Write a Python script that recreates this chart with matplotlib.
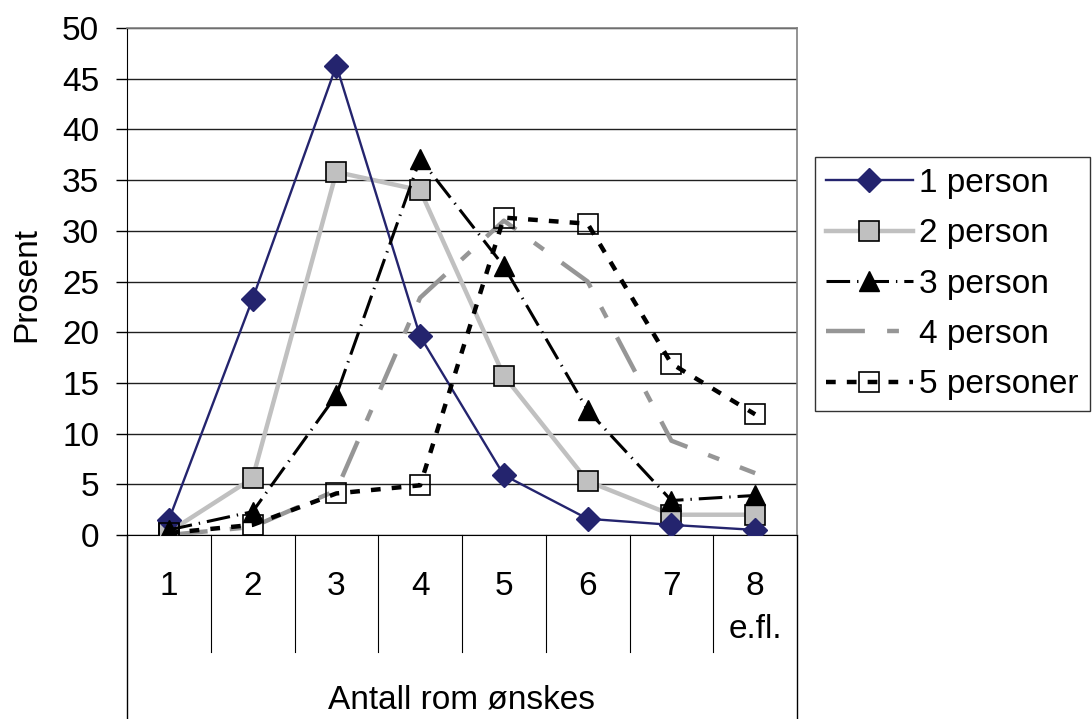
import matplotlib
matplotlib.use("Agg")
import matplotlib.pyplot as plt
import matplotlib.transforms as mtransforms

plt.rcParams['font.family'] = ['Liberation Sans', 'DejaVu Sans']
plt.rcParams['lines.scale_dashes'] = False

categories = ["1", "2", "3", "4", "5", "6", "7", "8\ne.fl."]
series_names = ["1 person", "2 person", "3 person", "4 person", "5 personer"]
p1 = [1.5, 23.3, 46.3, 19.6, 5.9, 1.6, 1.0, 0.5]
p2 = [0.3, 5.6, 35.8, 34.0, 15.7, 5.3, 2.0, 2.0]
p3 = [0.5, 2.3, 13.8, 37.1, 26.5, 12.3, 3.4, 3.9]
p4 = [0.0, 0.8, 4.4, 23.4, 31.0, 25.0, 9.3, 6.1]
p5 = [0.2, 1.0, 4.1, 4.9, 31.3, 30.7, 16.9, 11.9]
yticks = [0, 5, 10, 15, 20, 25, 30, 35, 40, 45, 50]

FS = 24
W, H = 1092, 719
fig = plt.figure(figsize=(W / 100, H / 100), dpi=100)
L, R, T, B = 127, 797, 28, 535
ax = fig.add_axes([L / W, (H - B) / H, (R - L) / W, (B - T) / H])

x = list(range(1, len(categories) + 1))

ax.plot(x, p1, color='#24246E', lw=1.7, marker='D', ms=12,
        mfc='#24246E', mec='#24246E', label=series_names[0], zorder=5)
ax.plot(x, p2, color='#C0C0C0', lw=3.2, marker='s', ms=15,
        mfc='#C0C0C0', mec='black', mew=1.2, label=series_names[1], zorder=4)
ax.plot(x, p3, color='black', lw=2.2, ls=(0, (17, 5, 1, 5)), marker='^', ms=14,
        mfc='black', mec='black', label=series_names[2], zorder=6)
ax.plot(x, p4, color='#969696', lw=3.2, ls=(0, (28, 16, 8.5, 16)),
        label=series_names[3], zorder=3)
ax.plot(x, p5, color='black', lw=3.2, ls=(0, (7, 8)), marker='s', ms=15,
        mfc='none', mec='black', mew=1.2, label=series_names[4], zorder=7)

ax.set_xlim(0.5, len(categories) + 0.5)
ax.set_ylim(0, 50)
ax.set_yticks(yticks)
ax.set_yticklabels([str(v) for v in yticks], fontsize=FS)
ax.tick_params(axis='y', direction='out', length=8, width=1, pad=12, colors='black')
ax.set_xticks(x)
ax.set_xticklabels(categories, fontsize=FS, linespacing=1.5, va='top')
ax.tick_params(axis='x', length=0, pad=26)
ax.grid(axis='y', color='#202020', lw=1)
ax.set_axisbelow(True)

for s in ['top', 'right']:
    ax.spines[s].set_color('#808080')
    ax.spines[s].set_linewidth(1.2)
ax.spines['left'].set_color('black')
ax.spines['bottom'].set_color('black')

# category separators below the axis (multi-level axis look)
trans = mtransforms.blended_transform_factory(ax.transData, ax.transAxes)
sep_bottom = -(652 - B) / (B - T)
outer_bottom = -(H - B) / (B - T)
for xv in [i + 0.5 for i in range(1, len(categories))]:
    ax.plot([xv, xv], [0, sep_bottom], color='black', lw=0.8,
            transform=trans, clip_on=False)
for xv in [0.5, len(categories) + 0.5]:
    ax.plot([xv, xv], [0, outer_bottom], color='black', lw=1,
            transform=trans, clip_on=False)

fig.text(27 / W, 1 - 284 / H, "Prosent", fontsize=FS, rotation=90,
         ha='center', va='center')
fig.text((L + R) / 2 / W, 1 - 700 / H, "Antall rom ønskes", fontsize=FS,
         ha='center', va='center')

leg = ax.legend(loc='upper left', bbox_to_anchor=(815 / W, 1 - 157 / H),
                bbox_transform=fig.transFigure, fontsize=FS, frameon=True,
                fancybox=False, edgecolor='black', borderaxespad=0,
                handlelength=2.6, handletextpad=0.2, labelspacing=0.58,
                borderpad=0.33)
leg.get_frame().set_linewidth(1)

fig.savefig("out.png", dpi=100)
